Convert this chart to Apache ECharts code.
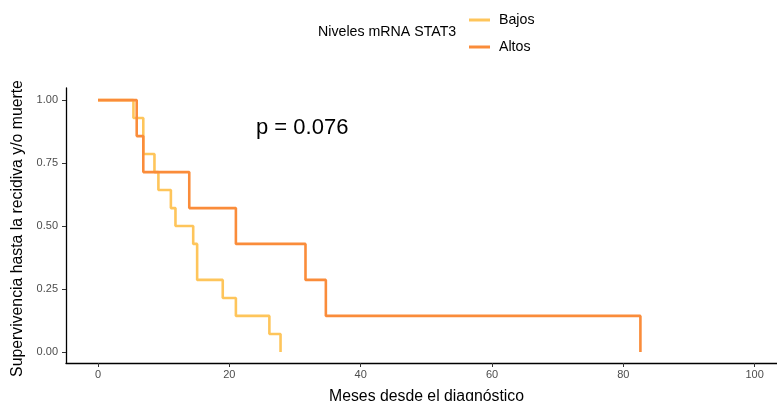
<!DOCTYPE html>
<html>
<head>
<meta charset="utf-8">
<script src="https://cdn.jsdelivr.net/npm/echarts@6/dist/echarts.min.js"></script>
<style>
  html, body { margin: 0; padding: 0; background: #fff; }
  #chart { width: 777px; height: 401px; }
</style>
</head>
<body>
<div id="chart"></div>
<script>
// Kaplan-Meier estimates: time of each event (months) and survival after it
const bajosTime = [0, 5.4, 6.9, 8.6, 9.2, 11.1, 11.8, 14.5, 15.1, 19.0, 21.0, 26.1, 27.8];
const bajosSurv = [1, 0.929, 0.786, 0.714, 0.643, 0.571, 0.5, 0.429, 0.286, 0.214, 0.143, 0.071, 0];
const altosTime = [0, 5.9, 6.9, 13.9, 21.0, 31.6, 34.7, 82.6];
const altosSurv = [1, 0.857, 0.714, 0.571, 0.429, 0.286, 0.143, 0];

const xTicks = [0, 20, 40, 60, 80, 100];
const yTicks = [0, 0.25, 0.5, 0.75, 1];
const groupNames = ['Bajos', 'Altos'];
const groupColors = ['#FEC55B', '#FA8C3A'];
const legendTitle = 'Niveles mRNA STAT3';
const pValueText = 'p = 0.076';

const pairs = (xs, ys) => xs.map((x, i) => [x, ys[i]]);
const font = 'Liberation Sans, Arial, sans-serif';

const chart = echarts.init(document.getElementById('chart'));
chart.setOption({
  backgroundColor: '#ffffff',
  animation: false,
  textStyle: { fontFamily: font },
  grid: { left: 66, right: 0, top: 88, bottom: 38, containLabel: false, outerBoundsMode: 'none' },
  legend: {
    data: groupNames,
    orient: 'vertical',
    left: 464,
    top: 8,
    itemGap: 13,
    itemWidth: 21,
    itemHeight: 3,
    icon: 'rect',
    textStyle: { fontSize: 14.2, color: '#000', fontFamily: font, padding: [0, 0, 0, 4] }
  },
  graphic: [
    {
      type: 'text',
      left: 318,
      top: 25,
      style: { text: legendTitle, fontSize: 14.2, fill: '#000', fontFamily: font }
    },
    {
      type: 'text',
      left: 256,
      top: 117,
      style: { text: pValueText, fontSize: 22, fill: '#000', fontFamily: font }
    }
  ],
  xAxis: {
    type: 'value',
    min: -4.87,
    max: 103.4,
    name: 'Meses desde el diagnóstico',
    nameLocation: 'middle',
    nameGap: 26,
    nameTextStyle: { fontSize: 15.8, color: '#000', fontFamily: font, padding: [0, 0, 0, 10] },
    axisLine: { onZero: false, lineStyle: { color: '#000', width: 1.3 } },
    axisTick: { show: true, length: 4, customValues: xTicks, lineStyle: { color: '#333', width: 1 } },
    axisLabel: { customValues: xTicks, fontSize: 11, color: '#4d4d4d', margin: 6, fontFamily: font },
    splitLine: { show: false }
  },
  yAxis: {
    type: 'value',
    min: -0.044,
    max: 1.048,
    name: 'Supervivencia hasta la recidiva y/o muerte',
    nameLocation: 'middle',
    nameRotate: 90,
    nameGap: 39,
    nameTextStyle: { fontSize: 15.8, color: '#000', fontFamily: font, padding: [0, 6, 0, 0] },
    axisLine: { show: true, onZero: false, lineStyle: { color: '#000', width: 1.3 } },
    axisTick: { show: true, length: 4, customValues: yTicks, lineStyle: { color: '#333', width: 1 } },
    axisLabel: {
      customValues: yTicks, fontSize: 11, color: '#4d4d4d', margin: 8, fontFamily: font,
      formatter: v => v.toFixed(2)
    },
    splitLine: { show: false }
  },
  series: [
    {
      name: groupNames[0],
      type: 'line',
      step: 'end',
      showSymbol: false,
      color: groupColors[0],
      lineStyle: { width: 2.6, color: groupColors[0] },
      data: pairs(bajosTime, bajosSurv)
    },
    {
      name: groupNames[1],
      type: 'line',
      step: 'end',
      showSymbol: false,
      color: groupColors[1],
      lineStyle: { width: 2.6, color: groupColors[1] },
      data: pairs(altosTime, altosSurv)
    }
  ]
});
</script>
</body>
</html>
